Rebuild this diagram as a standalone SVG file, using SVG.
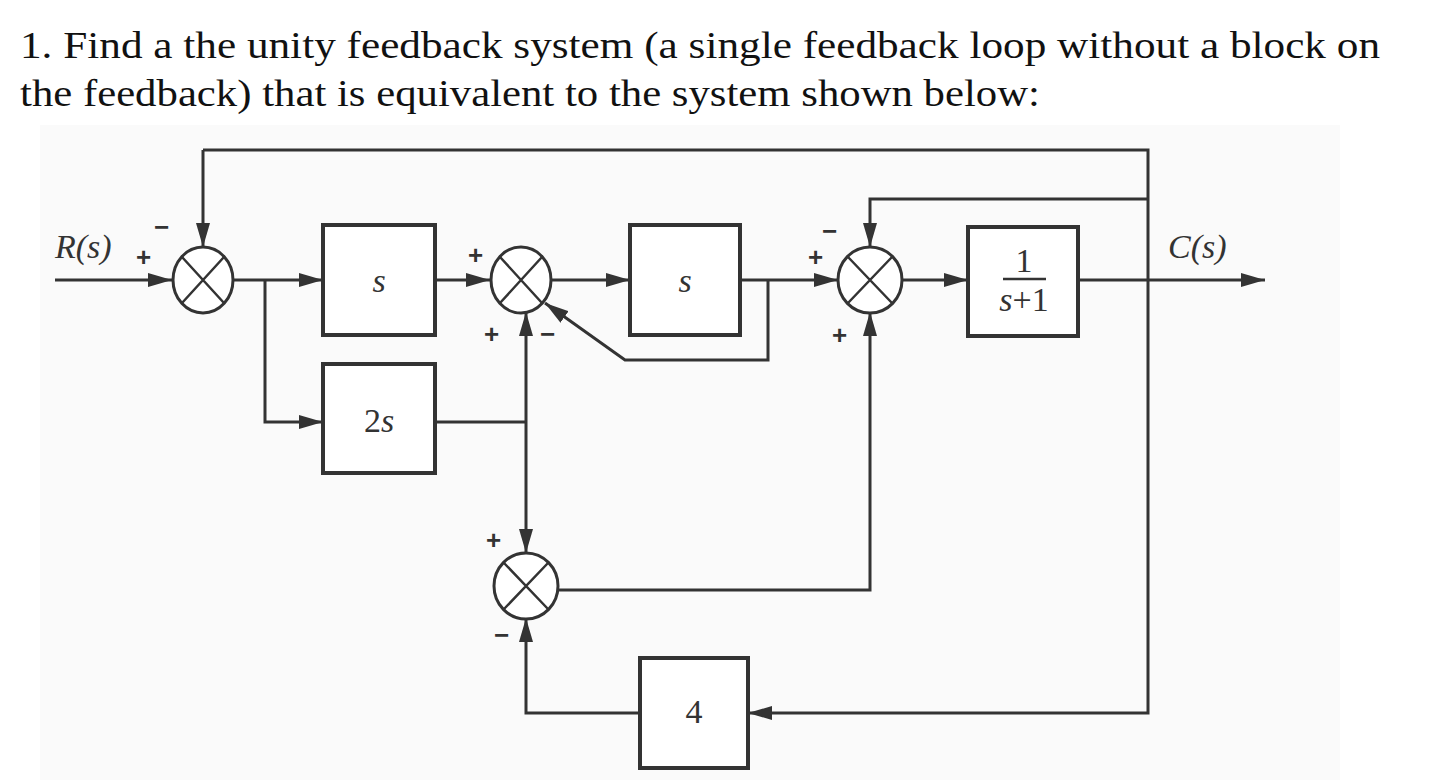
<svg xmlns="http://www.w3.org/2000/svg" width="1434" height="780" viewBox="0 0 1434 780">
<style>
.t{font-family:"Liberation Serif","Noto Serif",serif;font-size:38px;fill:#111}
.l{fill:none;stroke:#333;stroke-width:3}
.b{fill:#fff;stroke:#333;stroke-width:4}
.s{fill:#fff;stroke:#333;stroke-width:3}
.x{stroke:#333;stroke-width:2.5}
.m{font-family:"Liberation Serif",serif;font-size:34px;font-style:italic;fill:#333}
.n{font-style:normal}
.g{font-family:"Liberation Sans",sans-serif;font-size:26px;font-weight:bold;fill:#333}
</style>
<defs>
<marker id="A" markerWidth="24" markerHeight="14" refX="24" refY="7" orient="auto" markerUnits="userSpaceOnUse"><path d="M0,0L24,7L0,14z" fill="#333"/></marker></defs>
<rect width="1434" height="780" fill="#fff"/>
<rect x="40" y="125" width="1300" height="655" fill="#fafafa"/>
<text class="t" x="20" y="58" textLength="1360" lengthAdjust="spacingAndGlyphs">1. Find a the unity feedback system (a single feedback loop without a block on</text>
<text class="t" x="20" y="106" textLength="1020" lengthAdjust="spacingAndGlyphs">the feedback) that is equivalent to the system shown below:</text>
<g id="connectors">
<path class="l" d="M55,280H172" marker-end="url(#A)"/>
<path class="l" d="M203,150H1148V713H748" marker-end="url(#A)"/>
<path class="l" d="M203,150V247" marker-end="url(#A)"/>
<path class="l" d="M233,280H323" marker-end="url(#A)"/>
<path class="l" d="M265,280V422H323" marker-end="url(#A)"/>
<path class="l" d="M435,280H490" marker-end="url(#A)"/>
<path class="l" d="M551,280H630" marker-end="url(#A)"/>
<path class="l" d="M740,280H838" marker-end="url(#A)"/>
<path class="l" d="M768,280V360H625L545,303" marker-end="url(#A)"/>
<path class="l" d="M435,422H526"/>
<path class="l" d="M526,422V312" marker-end="url(#A)"/>
<path class="l" d="M526,422V553" marker-end="url(#A)"/>
<path class="l" d="M558,590H870V312" marker-end="url(#A)"/>
<path class="l" d="M1148,199H870V247" marker-end="url(#A)"/>
<path class="l" d="M902,280H968" marker-end="url(#A)"/>
<path class="l" d="M1078,280H1265" marker-end="url(#A)"/>
<path class="l" d="M640,713H526V618" marker-end="url(#A)"/>
</g>
<g id="sum1"><ellipse class="s" cx="203" cy="280" rx="30" ry="33"/><path class="x" d="M182,257L224,303M224,257L182,303"/></g>
<g id="sum2"><ellipse class="s" cx="521" cy="280" rx="30" ry="33"/><path class="x" d="M500,257L542,303M542,257L500,303"/></g>
<g id="sum3"><ellipse class="s" cx="870" cy="280" rx="32" ry="33"/><path class="x" d="M848,257L892,303M892,257L848,303"/></g>
<g id="sum4"><ellipse class="s" cx="526" cy="586" rx="32" ry="33"/><path class="x" d="M504,563L548,609M548,563L504,609"/></g>
<g id="box-s1"><rect class="b" x="323" y="225" width="112" height="110"/><text class="m" x="379" y="292" text-anchor="middle">s</text></g>
<g id="box-2s"><rect class="b" x="323" y="364" width="112" height="109"/><text class="m" x="379" y="432" text-anchor="middle"><tspan class="n">2</tspan>s</text></g>
<g id="box-s2"><rect class="b" x="630" y="225" width="110" height="110"/><text class="m" x="685" y="292" text-anchor="middle">s</text></g>
<g id="box-g"><rect class="b" x="968" y="227" width="110" height="109"/><text class="m n" x="1024" y="272" text-anchor="middle">1</text><line x1="1003" y1="279" x2="1046" y2="279" stroke="#333" stroke-width="2.5"/><text class="m" x="1024" y="311" text-anchor="middle">s<tspan class="n">+1</tspan></text></g>
<g id="box-4"><rect class="b" x="640" y="658" width="108" height="110"/><text class="m n" x="694" y="723" text-anchor="middle">4</text></g>
<text class="m" x="55" y="258">R(s)</text>
<text class="m" x="1168" y="258">C(s)</text>
<g class="g">
<text x="136" y="266">+</text><text x="154" y="236">−</text>
<text x="468" y="264">+</text><text x="484" y="343">+</text><text x="540" y="343">−</text>
<text x="808" y="266">+</text><text x="822" y="240">−</text><text x="832" y="344">+</text>
<text x="486" y="549">+</text><text x="494" y="644">−</text>
</g>
</svg>
